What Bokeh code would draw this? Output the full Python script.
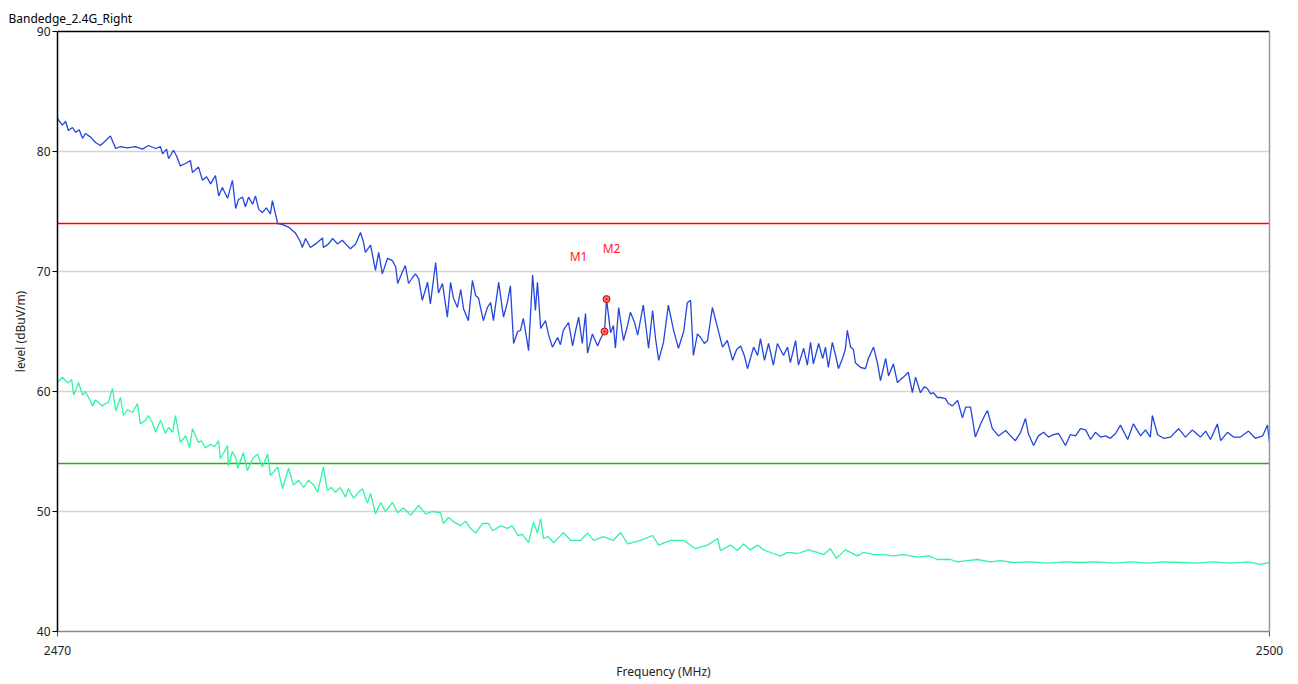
from bokeh.plotting import figure
from bokeh.models import Range1d, FixedTicker, ColumnDataSource, LinearAxis
from bokeh.core.properties import value
from bokeh.embed import file_html
from bokeh.resources import INLINE

# ---------------- data ----------------
title_text = "Bandedge_2.4G_Right"
x_label = "Frequency (MHz)"
y_label = "level (dBuV/m)"
x_ticks = [2470, 2500]
y_ticks = [40, 50, 60, 70, 80, 90]
limit_peak = 74
limit_avg = 54

peak_freq = [
    2470.00, 2470.12, 2470.20, 2470.27, 2470.37, 2470.45, 2470.54, 2470.62, 2470.69, 2470.82,
    2470.94, 2471.06, 2471.19, 2471.31, 2471.44, 2471.56, 2471.73, 2471.93, 2472.10, 2472.25,
    2472.43, 2472.55, 2472.60, 2472.70, 2472.75, 2472.87, 2472.95, 2473.04, 2473.17, 2473.29,
    2473.34, 2473.49, 2473.59, 2473.69, 2473.79, 2473.91, 2473.99, 2474.08, 2474.21, 2474.33,
    2474.41, 2474.48, 2474.58, 2474.65, 2474.73, 2474.83, 2474.90, 2474.98, 2475.07, 2475.17,
    2475.27, 2475.32, 2475.45, 2475.57, 2475.72, 2475.82, 2475.89, 2476.01, 2476.06, 2476.14,
    2476.26, 2476.39, 2476.56, 2476.58, 2476.71, 2476.81, 2476.93, 2477.05, 2477.13, 2477.25,
    2477.38, 2477.50, 2477.57, 2477.62, 2477.75, 2477.87, 2477.95, 2478.04, 2478.17, 2478.29,
    2478.37, 2478.42, 2478.54, 2478.61, 2478.69, 2478.79, 2478.86, 2478.94, 2479.03, 2479.16,
    2479.23, 2479.36, 2479.43, 2479.53, 2479.65, 2479.73, 2479.80, 2479.90, 2479.98, 2480.05,
    2480.17, 2480.27, 2480.35, 2480.42, 2480.54, 2480.64, 2480.72, 2480.79, 2480.92, 2481.04,
    2481.14, 2481.21, 2481.29, 2481.39, 2481.46, 2481.53, 2481.61, 2481.66, 2481.76, 2481.83,
    2481.88, 2481.96, 2482.08, 2482.15, 2482.25, 2482.38, 2482.45, 2482.52, 2482.65, 2482.75,
    2482.82, 2482.90, 2482.99, 2483.07, 2483.12, 2483.24, 2483.37, 2483.44, 2483.54, 2483.59,
    2483.69, 2483.76, 2483.81, 2483.89, 2484.01, 2484.11, 2484.18, 2484.28, 2484.36, 2484.50,
    2484.58, 2484.63, 2484.73, 2484.80, 2484.88, 2485.00, 2485.12, 2485.25, 2485.37, 2485.50,
    2485.59, 2485.67, 2485.74, 2485.84, 2485.92, 2486.01, 2486.09, 2486.21, 2486.34, 2486.46,
    2486.58, 2486.71, 2486.81, 2486.91, 2487.00, 2487.08, 2487.23, 2487.33, 2487.40, 2487.50,
    2487.60, 2487.72, 2487.82, 2487.97, 2488.07, 2488.14, 2488.27, 2488.34, 2488.47, 2488.56,
    2488.64, 2488.71, 2488.84, 2488.94, 2489.01, 2489.08, 2489.18, 2489.26, 2489.33, 2489.43,
    2489.50, 2489.55, 2489.63, 2489.70, 2489.75, 2489.88, 2490.00, 2490.07, 2490.20, 2490.30,
    2490.37, 2490.50, 2490.57, 2490.69, 2490.79, 2490.94, 2491.06, 2491.16, 2491.24, 2491.36,
    2491.46, 2491.53, 2491.61, 2491.68, 2491.78, 2491.86, 2491.98, 2492.05, 2492.15, 2492.28,
    2492.40, 2492.48, 2492.60, 2492.72, 2492.85, 2492.95, 2493.02, 2493.14, 2493.29, 2493.47,
    2493.59, 2493.71, 2493.84, 2493.96, 2494.03, 2494.16, 2494.28, 2494.41, 2494.53, 2494.65,
    2494.78, 2494.95, 2495.07, 2495.20, 2495.32, 2495.45, 2495.57, 2495.69, 2495.82, 2495.94,
    2496.06, 2496.19, 2496.31, 2496.49, 2496.63, 2496.81, 2496.93, 2497.05, 2497.10, 2497.23,
    2497.38, 2497.55, 2497.75, 2497.92, 2498.09, 2498.29, 2498.42, 2498.54, 2498.71, 2498.79,
    2498.96, 2499.11, 2499.28, 2499.48, 2499.65, 2499.83, 2499.95, 2500.00,
]
peak_level = [
    82.75, 82.2, 82.5, 81.75, 82.0, 81.6, 81.8, 81.1, 81.5, 81.2,
    80.75, 80.5, 80.9, 81.3, 80.25, 80.4, 80.3, 80.4, 80.2, 80.5,
    80.25, 80.4, 79.8, 80.2, 79.4, 80.1, 79.6, 78.8, 79.0, 79.25,
    78.25, 78.7, 77.6, 77.9, 77.3, 78.0, 76.3, 77.0, 76.1, 77.6,
    75.25, 76.0, 76.2, 75.4, 76.2, 75.6, 76.3, 75.2, 74.9, 75.3,
    74.8, 75.9, 74.0, 73.9, 73.7, 73.4, 73.2, 72.5, 72.0, 72.75,
    72.0, 72.3, 72.8, 72.0, 72.3, 72.75, 72.3, 72.6, 72.3, 71.9,
    72.3, 73.25, 72.5, 71.6, 72.2, 70.1, 71.6, 69.8, 71.1, 70.9,
    70.4, 69.0, 70.0, 70.5, 69.0, 69.5, 69.8, 69.4, 67.6, 69.1,
    67.3, 70.75, 68.2, 69.0, 66.2, 69.1, 67.8, 67.0, 68.5, 66.9,
    65.9, 69.25, 68.0, 67.8, 65.9, 67.0, 67.4, 65.9, 69.1, 66.2,
    67.5, 68.8, 64.0, 65.0, 65.1, 66.1, 64.5, 63.4, 69.7, 66.75,
    69.1, 65.25, 65.9, 64.8, 63.7, 64.5, 63.9, 65.1, 65.75, 63.8,
    65.0, 66.2, 64.0, 66.5, 63.2, 64.8, 63.8, 64.4, 65.0, 67.7,
    64.9, 65.5, 63.6, 67.0, 64.25, 65.5, 66.6, 65.8, 64.7, 67.2,
    65.0, 63.6, 66.75, 64.5, 62.6, 64.1, 67.2, 65.1, 63.6, 65.0,
    67.4, 67.6, 63.0, 64.8, 64.5, 64.0, 64.25, 67.0, 65.3, 63.7,
    64.25, 62.6, 63.5, 63.8, 63.0, 61.9, 63.7, 63.0, 64.4, 62.6,
    64.0, 62.2, 64.0, 63.0, 63.7, 62.4, 64.25, 62.2, 63.6, 62.2,
    64.1, 62.3, 64.0, 62.75, 63.7, 62.0, 64.1, 63.0, 61.9, 62.75,
    63.5, 65.1, 63.7, 63.5, 62.4, 62.0, 61.9, 62.75, 63.7, 62.3,
    60.9, 62.75, 61.3, 62.3, 60.75, 61.2, 61.6, 59.9, 61.2, 59.9,
    60.4, 60.25, 59.8, 59.9, 59.5, 59.5, 59.4, 59.0, 58.8, 59.25,
    57.8, 58.7, 58.7, 56.2, 57.3, 58.0, 58.4, 56.9, 56.3, 56.75,
    56.3, 55.9, 56.6, 57.75, 56.5, 55.5, 56.3, 56.6, 56.2, 56.4,
    56.5, 55.5, 56.4, 56.3, 56.9, 56.8, 56.0, 56.6, 56.2, 56.3,
    56.1, 56.5, 57.2, 56.0, 57.3, 56.3, 56.8, 56.2, 58.0, 56.4,
    56.1, 56.2, 56.9, 56.2, 56.8, 56.2, 56.7, 56.0, 57.3, 55.9,
    56.6, 56.2, 56.2, 56.7, 56.1, 56.3, 57.2, 55.75,
]

avg_freq = [
    2470.00, 2470.07, 2470.12, 2470.20, 2470.27, 2470.35, 2470.40, 2470.47, 2470.52, 2470.62,
    2470.69, 2470.77, 2470.87, 2470.94, 2471.04, 2471.11, 2471.19, 2471.26, 2471.36, 2471.44,
    2471.56, 2471.63, 2471.73, 2471.86, 2471.98, 2472.05, 2472.18, 2472.25, 2472.35, 2472.43,
    2472.55, 2472.67, 2472.75, 2472.85, 2472.92, 2473.04, 2473.17, 2473.27, 2473.34, 2473.49,
    2473.56, 2473.66, 2473.79, 2473.89, 2473.99, 2474.03, 2474.13, 2474.21, 2474.23, 2474.33,
    2474.41, 2474.46, 2474.60, 2474.70, 2474.83, 2474.95, 2475.07, 2475.20, 2475.27, 2475.45,
    2475.57, 2475.72, 2475.84, 2475.97, 2476.09, 2476.21, 2476.34, 2476.44, 2476.58, 2476.68,
    2476.78, 2476.88, 2477.00, 2477.13, 2477.20, 2477.33, 2477.45, 2477.55, 2477.67, 2477.75,
    2477.87, 2478.00, 2478.12, 2478.29, 2478.42, 2478.56, 2478.74, 2478.94, 2479.11, 2479.28,
    2479.48, 2479.55, 2479.68, 2479.78, 2479.98, 2480.10, 2480.22, 2480.35, 2480.52, 2480.67,
    2480.77, 2480.97, 2481.14, 2481.26, 2481.39, 2481.51, 2481.66, 2481.78, 2481.88, 2481.96,
    2482.03, 2482.15, 2482.28, 2482.40, 2482.52, 2482.70, 2482.95, 2483.12, 2483.27, 2483.51,
    2483.76, 2483.94, 2484.11, 2484.43, 2484.73, 2484.88, 2485.17, 2485.50, 2485.79, 2486.09,
    2486.34, 2486.41, 2486.66, 2486.83, 2486.98, 2487.15, 2487.33, 2487.48, 2487.72, 2487.90,
    2488.07, 2488.32, 2488.59, 2488.81, 2488.96, 2489.13, 2489.28, 2489.50, 2489.80, 2489.95,
    2490.20, 2490.45, 2490.69, 2490.94, 2491.29, 2491.56, 2491.78, 2492.10, 2492.28, 2492.52,
    2492.77, 2493.09, 2493.34, 2493.66, 2494.08, 2494.50, 2494.90, 2495.32, 2495.74, 2496.14,
    2496.56, 2496.98, 2497.38, 2497.80, 2498.22, 2498.61, 2499.03, 2499.46, 2499.78, 2500.00,
]
avg_level = [
    60.75, 61.0, 61.2, 60.9, 60.7, 61.0, 59.7, 60.3, 60.75, 59.7,
    60.0, 59.5, 58.8, 59.3, 59.0, 58.8, 59.0, 59.1, 60.25, 58.4,
    59.5, 58.0, 58.5, 58.25, 59.0, 57.3, 57.6, 58.0, 57.4, 56.6,
    57.6, 56.5, 57.0, 56.6, 58.0, 55.75, 56.3, 55.3, 56.9, 55.75,
    55.9, 55.3, 55.6, 55.4, 55.9, 54.4, 55.0, 55.5, 53.8, 55.0,
    54.5, 53.6, 54.9, 53.4, 54.4, 54.8, 53.7, 54.8, 53.0, 53.7,
    51.9, 53.6, 52.2, 52.6, 52.0, 52.6, 52.2, 51.6, 53.7, 51.75,
    52.0, 51.6, 52.0, 51.2, 51.9, 51.1, 51.6, 51.9, 50.7, 51.5,
    49.8, 50.75, 50.0, 50.75, 49.9, 50.3, 49.7, 50.5, 49.8, 50.0,
    49.9, 49.0, 49.5, 49.2, 48.8, 49.2, 48.6, 48.2, 49.0, 49.0,
    48.4, 48.8, 48.6, 48.8, 48.0, 48.1, 47.4, 49.1, 48.2, 49.4,
    47.75, 47.9, 47.4, 47.8, 48.25, 47.6, 47.6, 48.2, 47.6, 47.9,
    47.6, 48.25, 47.3, 47.6, 48.0, 47.2, 47.6, 47.6, 46.9, 47.2,
    47.75, 46.75, 47.2, 46.75, 47.3, 46.8, 47.2, 46.8, 46.5, 46.3,
    46.6, 46.5, 46.8, 46.6, 46.4, 46.9, 46.1, 46.8, 46.3, 46.6,
    46.4, 46.4, 46.3, 46.4, 46.2, 46.3, 46.0, 46.0, 45.8, 45.9,
    46.0, 45.8, 45.9, 45.75, 45.8, 45.7, 45.8, 45.75, 45.8, 45.7,
    45.8, 45.7, 45.8, 45.75, 45.7, 45.8, 45.7, 45.8, 45.6, 45.75,
]

marker_names = ["M1", "M2"]
marker_freq = [2483.54, 2483.59]
marker_level = [65.0, 67.7]

# ---------------- figure ----------------
FONT = "Noto Sans"

p = figure(width=1290, height=684, output_backend="svg", toolbar_location=None,
           x_range=Range1d(2470, 2500), y_range=Range1d(40, 90),
           min_border_left=57, min_border_right=21, min_border_top=31, min_border_bottom=53)

p.title.text = title_text
p.title.align = "left"
p.title.offset = -49
p.title.standoff = 10
p.title.text_font = FONT
p.title.text_font_size = "12px"
p.title.text_font_style = "normal"
p.title.text_color = "#000000"

p.outline_line_color = None
p.background_fill_color = "white"
p.border_fill_color = "white"

p.xgrid.visible = False
p.ygrid.ticker = FixedTicker(ticks=y_ticks)
p.ygrid.grid_line_color = "#d4d4d4"
p.ygrid.grid_line_width = 1.5

# x axis
p.xaxis.ticker = FixedTicker(ticks=x_ticks)
p.xaxis.axis_label = x_label
p.xaxis.axis_line_color = "#8a8a8a"
p.xaxis.axis_line_width = 1.5
p.xaxis.major_tick_line_color = "#555555"
p.xaxis.major_tick_out = 5
p.xaxis.major_tick_in = 0
p.xaxis.minor_tick_line_color = None
p.xaxis.major_label_standoff = 9
p.xaxis.axis_label_standoff = 5

# y axis
p.yaxis.ticker = FixedTicker(ticks=y_ticks)
p.yaxis.axis_label = y_label
p.yaxis.axis_line_color = "#000000"
p.yaxis.axis_line_width = 1.5
p.yaxis.major_tick_line_color = "#000000"
p.yaxis.major_tick_out = 5
p.yaxis.major_tick_in = 0
p.yaxis.minor_tick_line_color = None
p.yaxis.major_label_standoff = 2
p.yaxis.axis_label_standoff = 5

for ax in (p.xaxis, p.yaxis):
    ax.major_label_text_font = FONT
    ax.major_label_text_font_size = "12px"
    ax.major_label_text_color = "#222222"
    ax.axis_label_text_font = FONT
    ax.axis_label_text_font_size = "12px"
    ax.axis_label_text_font_style = "normal"
    ax.axis_label_text_color = "#222222"

# frame top / right borders as bare axes
top_axis = LinearAxis(ticker=FixedTicker(ticks=[]), axis_line_color="#000000", axis_line_width=1.5,
                      major_tick_line_color=None, minor_tick_line_color=None,
                      major_label_text_font_size="0px")
right_axis = LinearAxis(ticker=FixedTicker(ticks=[]), axis_line_color="#9a9a9a", axis_line_width=1.5,
                        major_tick_line_color=None, minor_tick_line_color=None,
                        major_label_text_font_size="0px")
p.add_layout(top_axis, "above")
p.add_layout(right_axis, "right")

# limit lines drawn as ordinary line glyphs across the x range
x_span = [x_ticks[0], x_ticks[-1]]
p.line(x_span, [limit_peak, limit_peak], line_color="red", line_width=1.5)
p.line(x_span, [limit_avg, limit_avg], line_color="#00c800", line_width=1.5)

# traces
p.line(avg_freq, avg_level, line_color="#30f5a0", line_width=1.3)
p.line(peak_freq, peak_level, line_color="#2446dc", line_width=1.3)

# markers
msrc = ColumnDataSource(dict(x=marker_freq, y=marker_level, name=marker_names,
                             dx=[-26, 5], dy=[-75, -51]))
p.scatter("x", "y", source=msrc, size=7, marker="circle_dot",
          fill_color="#ff6a6a", line_color="#e00000", line_width=1)
p.text("x", "y", text="name", source=msrc, x_offset="dx", y_offset="dy",
       text_font=value(FONT), text_font_size="12px", text_color="#ff2020",
       text_align="center", text_baseline="middle")

open("out.html", "w").write(file_html(p, INLINE))
